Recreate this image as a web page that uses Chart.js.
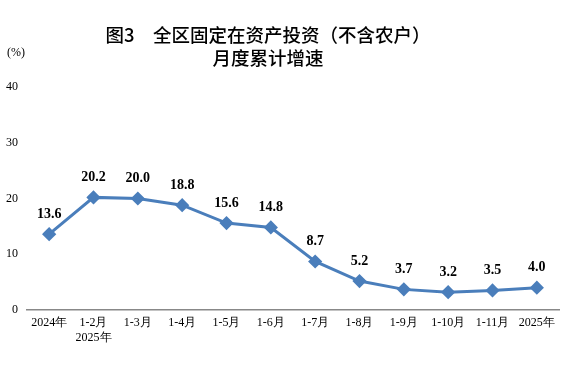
<!DOCTYPE html>
<html>
<head>
<meta charset="utf-8">
<script src="https://cdn.jsdelivr.net/npm/chart.js@4/dist/chart.umd.min.js"></script>
<style>
  html, body { margin: 0; padding: 0; background: #fff; }
  #wrap { width: 576px; height: 366px; position: relative; }
</style>
</head>
<body>
<div id="wrap"><canvas id="chart"></canvas></div>
<script>
// Chart data
const categories = [['2024年'], ['1-2月', '2025年'], ['1-3月'], ['1-4月'], ['1-5月'], ['1-6月'],
  ['1-7月'], ['1-8月'], ['1-9月'], ['1-10月'], ['1-11月'], ['2025年']];
const growthValues = [13.6, 20.2, 20.0, 18.8, 15.6, 14.8, 8.7, 5.2, 3.7, 3.2, 3.5, 4.0];
const titleLines = ['图3　全区固定在资产投资（不含农户）', '月度累计增速'];
const unitLabel = '(%)';

const serif = '"Liberation Serif", "Times New Roman", serif';
const cjk = '"Noto Sans CJK SC", sans-serif';

// Title, unit and value labels drawn on canvas
const annotatePlugin = {
  id: 'annotate',
  afterDatasetsDraw(chart) {
    const ctx = chart.ctx;
    ctx.save();
    ctx.fillStyle = '#000';
    ctx.textAlign = 'center';
    ctx.textBaseline = 'middle';
    ctx.font = '500 18.5px ' + cjk;
    ctx.fillText(titleLines[0], 268, 35);
    ctx.fillText(titleLines[1], 268, 58);

    ctx.font = '12px ' + serif;
    ctx.fillText(unitLabel, 16, 53);

    ctx.font = 'bold 14px ' + serif;
    const meta = chart.getDatasetMeta(0);
    meta.data.forEach((pt, i) => {
      ctx.fillText(growthValues[i].toFixed(1), pt.x, pt.y - 20);
    });
    ctx.restore();
  }
};

new Chart(document.getElementById('chart'), {
  type: 'line',
  data: {
    labels: categories,
    datasets: [{
      data: growthValues,
      borderColor: '#4A7EBB',
      backgroundColor: '#4A7EBB',
      borderWidth: 3,
      pointStyle: 'rectRot',
      pointRadius: 5,
      pointHoverRadius: 5,
      tension: 0
    }]
  },
  options: {
    responsive: true,
    maintainAspectRatio: false,
    animation: false,
    layout: { padding: { top: 87, right: 17, left: 0, bottom: 0 } },
    plugins: {
      legend: { display: false },
      tooltip: { enabled: false }
    },
    scales: {
      x: {
        offset: true,
        grid: { display: false, drawTicks: false },
        border: { display: true, color: '#888', width: 1.5 },
        ticks: {
          color: '#000',
          padding: 6,
          maxRotation: 0,
          autoSkip: false,
          font: { family: serif, size: 12 }
        },
        afterFit(scale) { scale.height = 56; }
      },
      y: {
        min: 0,
        max: 40,
        grid: { display: false, drawTicks: false },
        border: { display: false },
        ticks: {
          stepSize: 10,
          color: '#000',
          padding: 9,
          font: { family: serif, size: 12 }
        },
        afterFit(scale) { scale.width = 27; }
      }
    }
  },
  plugins: [annotatePlugin]
});
</script>
</body>
</html>
